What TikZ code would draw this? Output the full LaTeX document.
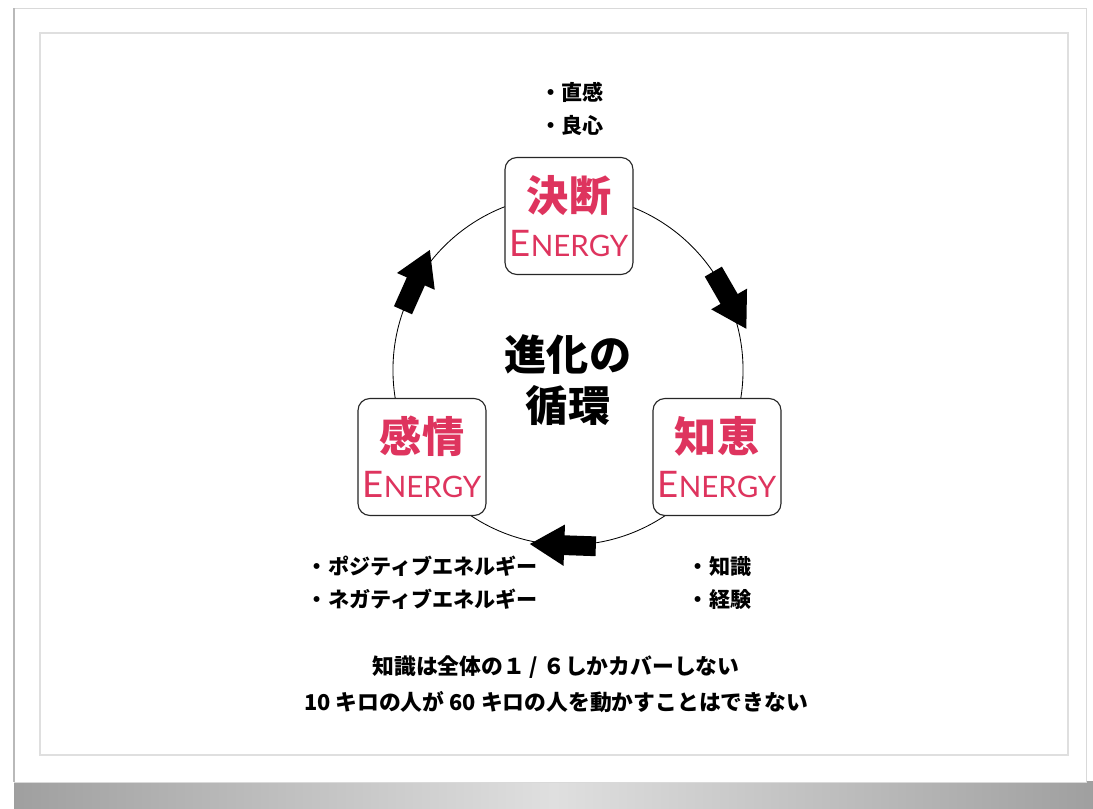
\documentclass[tikz,border=0pt]{standalone}
\usepackage{fontspec}
\setmainfont{Noto Sans CJK JP}
\newfontfamily\latinfont{Lato}
\usetikzlibrary{shapes.arrows}
\definecolor{energyred}{RGB}{222,52,94}

\tikzstyle{energy} = [rectangle, rounded corners=0.3cm, minimum width=3.2cm, minimum height=2.925cm, draw=black!85, thick, fill=white, align=center, text=energyred, font=\bfseries\fontsize{30}{32}\selectfont]
\tikzstyle{note} = [align=left, font=\bfseries\fontsize{15}{23.5}\selectfont]
\tikzstyle{blockarrow} = [single arrow, fill=black, draw=none, minimum height=1.65cm, minimum width=0pt, inner xsep=0pt, inner ysep=0.24cm, single arrow head extend=0.27cm, single arrow tip angle=62]
\newcommand{\energyword}{{\mdseries\latinfont\fontsize{26}{30}\selectfont E\fontsize{21}{30}\selectfont NERGY}}

\begin{document}
\begin{tikzpicture}[x=0.025cm, y=0.025cm]
    \useasboundingbox (0,0) rectangle (1093,809);

    % Frame
    \fill[left color=gray!75, right color=gray!75, middle color=gray!25] (14,0) rectangle (1093,27);
    \draw[gray!30, fill=white] (14,27) rectangle (1086,801);
    \draw[gray!55, line width=1.5pt] (14,27) -- (14,801);
    \draw[gray!25, line width=1.2pt] (40,54) rectangle (1068,776);

    % Nodes
    \node (ring) [circle, draw, semithick, minimum size=8.75cm] at (568,439) {};
    \node (decide) [energy] at (569,593) {決断\\\energyword};
    \node (wisdom) [energy] at (717,352) {知恵\\\energyword};
    \node (feeling) [energy] at (422,352) {感情\\\energyword};

    \node (title) [align=center, font=\bfseries\fontsize{30}{36}\selectfont] at (568,429) {進化の\\循環};

    \node (decidenote) [note] at (572,700) {・直感\\・良心};
    \node (feelingnote) [note, anchor=west] at (302,226) {・ポジティブエネルギー\\・ネガティブエネルギー};
    \node (wisdomnote) [note, anchor=west] at (683,226) {・知識\\・経験};

    \node (line1) [font=\bfseries\fontsize{15.5}{20}\selectfont] at (556,142) {知識は全体の１ / ６しかカバーしない};
    \node (line2) [font=\bfseries\fontsize{15.5}{20}\selectfont] at (556,107) {10 キロの人が 60 キロの人を動かすことはできない};

    % Arrows
    \node (arrow1) [blockarrow, rotate=-60] at (ring.26) {};
    \node (arrow2) [blockarrow, rotate=178] at (ring.-89) {};
    \node (arrow3) [blockarrow, rotate=66] at (ring.152) {};

\end{tikzpicture}
\end{document}
